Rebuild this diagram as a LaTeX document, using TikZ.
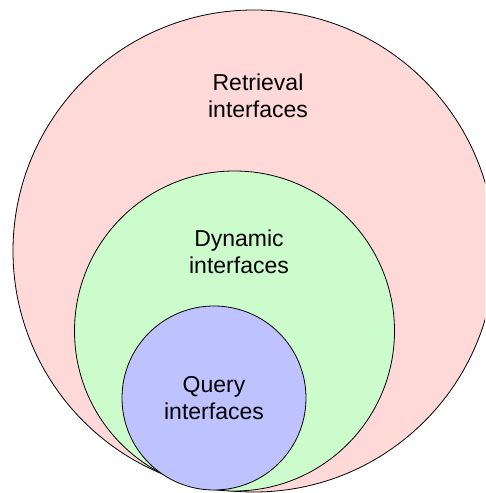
\documentclass[tikz,border=0pt]{standalone}
\usepackage{fontspec}
\setmainfont{Liberation Sans}
\usetikzlibrary{positioning}

\definecolor{retrievalred}{RGB}{255,216,216}
\definecolor{dynamicgreen}{RGB}{204,252,204}
\definecolor{queryblue}{RGB}{190,195,255}

\begin{document}
\begin{tikzpicture}[x=1pt, y=1pt]
        \tikzstyle{set}=[
            circle, draw=black, line width=0.8pt, inner sep=0pt,
        ]
        \tikzstyle{annot} = [align=center, font=\fontsize{23}{27}\selectfont]

        \useasboundingbox (0,0) rectangle (485,493);
        \clip (0,0) rectangle (485,493);

        % Draw the nested sets, all touching at the bottom
        \node[set, fill=retrievalred, minimum size=482pt] (retrieval) at (254,242) {};
        \node[set, fill=dynamicgreen, minimum size=320pt] (dynamic) at (234.5,162) {};
        \node[set, fill=queryblue, minimum size=184pt, annot] (query) at (214,95) {Query\\interfaces};

        % Annotate the outer sets
        \node[annot, below=86pt of retrieval.north, anchor=center, xshift=4pt] (retrieval-label) {Retrieval\\interfaces};
        \node[annot, below=81pt of dynamic.north, anchor=center, xshift=4.5pt] (dynamic-label) {Dynamic\\interfaces};
\end{tikzpicture}
\end{document}
